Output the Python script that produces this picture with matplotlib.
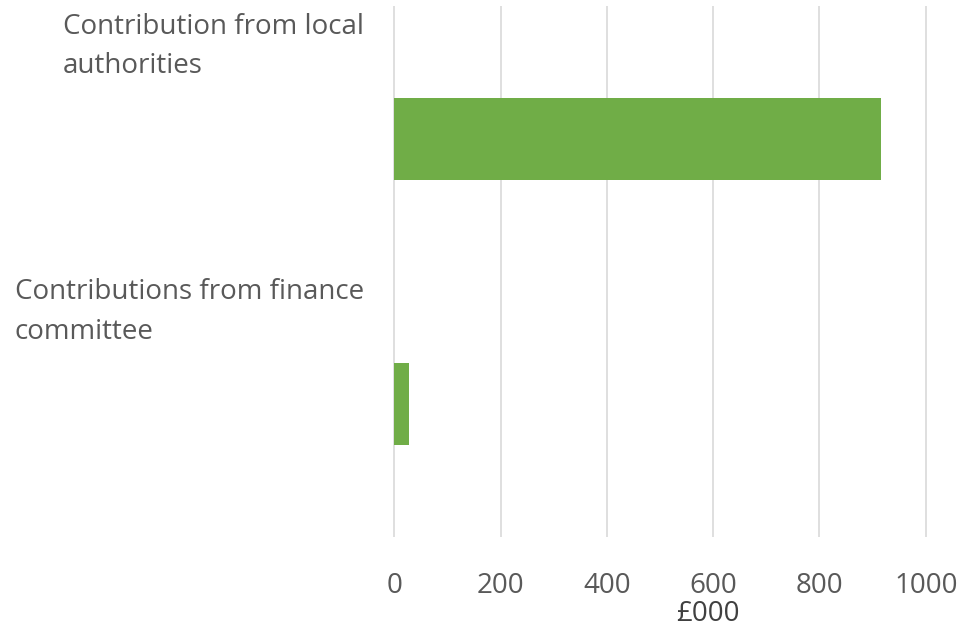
import matplotlib.pyplot as plt
import numpy as np

# Data
categories = ['Contribution from local\nauthorities', 'Contributions from finance\ncommittee']
values = [916, 27]
xticks = [0, 200, 400, 600, 800, 1000]

plt.rcParams['font.family'] = ['Open Sans', 'DejaVu Sans']

fig = plt.figure(figsize=(9.61, 6.29), dpi=100)
ax = fig.add_axes([0.4075, 0.1463, 0.5613, 0.8442])

y = np.arange(len(categories))
ax.barh(y, values, height=0.31, color='#70AD47', zorder=2)

ax.set_xlim(-5, 1010)
ax.set_ylim(1.5, -0.5)
ax.set_xticks(xticks)
ax.set_xticklabels([str(t) for t in xticks], fontsize=20, color='#595959')
ax.tick_params(axis='x', length=0, pad=25)
ax.set_yticks([])
ax.grid(axis='x', color='#D9D9D9', linewidth=1.2, zorder=0)
for s in ax.spines.values():
    s.set_visible(False)

ax.set_xlabel('£000', fontsize=20, color='#404040', labelpad=0)
ax.xaxis.set_label_coords(0.586, -0.118)

# Category labels sit at the top of each band
for i, cat in enumerate(categories):
    ax.annotate(cat, xy=(0, i - 0.5), xycoords=('axes fraction', 'data'),
                xytext=(-20, -5), textcoords='offset points',
                ha='right', va='top', multialignment='left',
                fontsize=20, color='#595959', linespacing=1.53)

fig.savefig('out.png', dpi=100)
